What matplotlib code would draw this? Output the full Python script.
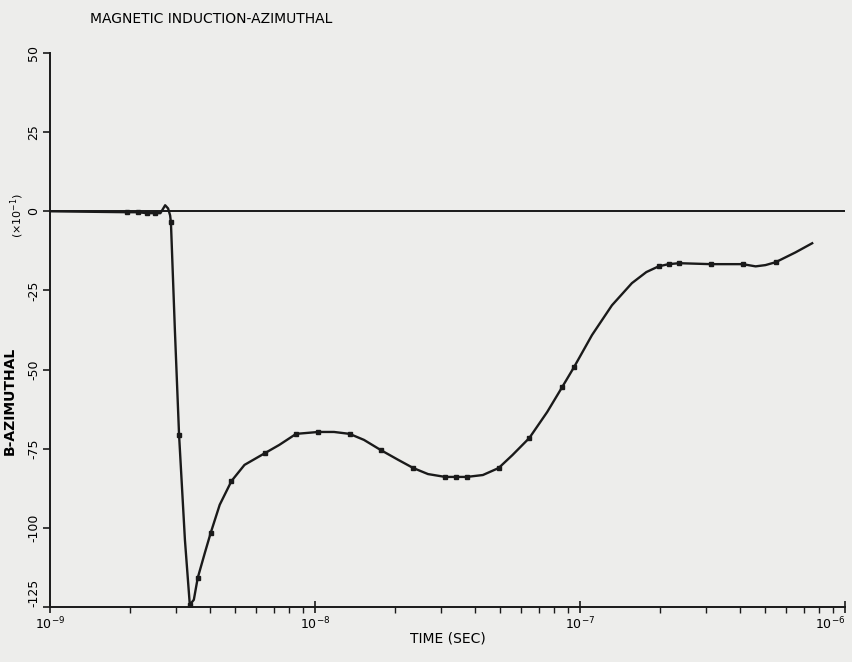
import numpy as np
import matplotlib.pyplot as plt
from matplotlib.ticker import LogLocator, NullFormatter, FixedLocator

# curve (time in s, B in units of 1e-1)
tempo = [1.00e-9, 1.96e-9, 2.14e-9, 2.33e-9, 2.49e-9, 2.61e-9, 2.65e-9, 2.72e-9,
         2.79e-9, 2.84e-9, 2.86e-9, 2.96e-9, 3.07e-9, 3.23e-9, 3.37e-9, 3.49e-9,
         3.61e-9, 3.84e-9, 4.04e-9, 4.37e-9, 4.84e-9, 5.42e-9, 6.50e-9, 7.33e-9,
         8.49e-9, 1.03e-8, 1.18e-8, 1.35e-8, 1.53e-8, 1.77e-8, 2.06e-8, 2.35e-8,
         2.67e-8, 3.10e-8, 3.40e-8, 3.74e-8, 4.30e-8, 4.93e-8, 5.56e-8, 6.44e-8,
         7.52e-8, 8.57e-8, 9.50e-8, 1.11e-7, 1.32e-7, 1.57e-7, 1.78e-7, 1.98e-7,
         2.16e-7, 2.37e-7, 3.12e-7, 4.11e-7, 4.60e-7, 5.01e-7, 5.47e-7, 6.50e-7,
         7.52e-7]
b_azim = [0.0, -0.3, -0.3, -0.6, -0.6, -0.6, 0.3, 1.9,
          0.9, -1.3, -3.5, -37.5, -70.7, -103.8, -124.3, -122.7,
          -115.8, -107.9, -101.6, -92.7, -85.2, -80.1, -76.3, -73.8,
          -70.3, -69.7, -69.7, -70.3, -72.2, -75.4, -78.5, -81.1,
          -83.0, -83.9, -83.9, -83.9, -83.3, -81.1, -77.0, -71.6,
          -63.4, -55.5, -49.2, -39.1, -29.7, -22.7, -19.2, -17.4,
          -16.7, -16.4, -16.7, -16.7, -17.4, -17.0, -16.1, -13.0,
          -10.1]

# sample points marked on the curve
t_marc = [1.96e-9, 2.14e-9, 2.33e-9, 2.49e-9, 2.86e-9, 3.07e-9, 3.37e-9, 3.61e-9,
          4.04e-9, 4.84e-9, 6.50e-9, 8.49e-9, 1.03e-8, 1.35e-8, 1.77e-8, 2.35e-8,
          3.10e-8, 3.40e-8, 3.74e-8, 4.93e-8, 6.44e-8, 8.57e-8, 9.50e-8, 1.98e-7,
          2.16e-7, 2.37e-7, 3.12e-7, 4.11e-7, 5.47e-7]
b_marc = [-0.3, -0.3, -0.6, -0.6, -3.5, -70.7, -124.3, -115.8,
          -101.6, -85.2, -76.3, -70.3, -69.7, -70.3, -75.4, -81.1,
          -83.9, -83.9, -83.9, -81.1, -71.6, -55.5, -49.2, -17.4,
          -16.7, -16.4, -16.7, -16.7, -16.1]

y_ticks = [50, 25, 0, -25, -50, -75, -100, -125]
x_ticks = [1e-9, 1e-8, 1e-7, 1e-6]
x_labels = [r'$10^{-9}$', r'$10^{-8}$', r'$10^{-7}$', r'$10^{-6}$']

papel = '#ededeb'
tinta = '#1a1a1a'

fig = plt.figure(figsize=(8.53, 6.62), dpi=100, facecolor=papel)
ax = fig.add_axes([0.0586, 0.083, 0.932, 0.837], facecolor=papel)

ax.axhline(0, color=tinta, lw=1.4, zorder=1)
ax.plot(tempo, b_azim, color=tinta, lw=1.7, zorder=2)
ax.plot(t_marc, b_marc, ls='none', marker='s', ms=3.5, color=tinta, zorder=3)

ax.set_xscale('log')
ax.set_xlim(1e-9, 1e-6)
ax.set_ylim(-125, 50)

ax.set_xticks(x_ticks)
ax.set_xticklabels(x_labels, fontsize=9)
ax.get_xticklabels()[-1].set_ha('right')
ax.xaxis.set_minor_locator(LogLocator(base=10, subs=np.arange(2, 10)))
ax.xaxis.set_minor_formatter(NullFormatter())
ax.tick_params(axis='x', which='major', direction='inout', length=8, width=1.2, color=tinta, pad=2)
ax.tick_params(axis='x', which='minor', direction='out', length=4, width=1.0, color=tinta)

ax.yaxis.set_major_locator(FixedLocator(y_ticks))
ax.set_yticklabels([str(v) for v in y_ticks], rotation=90, va='center', fontsize=9)
ax.tick_params(axis='y', direction='out', length=5, width=1.2, color=tinta, pad=2)
ax.get_yticklabels()[-1].set_va('bottom')

for lado in ['top', 'right']:
    ax.spines[lado].set_visible(False)
for lado in ['left', 'bottom']:
    ax.spines[lado].set_linewidth(1.4)
    ax.spines[lado].set_color(tinta)

ax.set_xlabel('TIME (SEC)', fontsize=10, labelpad=0)
fig.text(0.012, 0.395, 'B-AZIMUTHAL', rotation=90, ha='center', va='center',
         fontsize=10, fontweight='bold')
fig.text(0.020, 0.675, r'($\times10^{-1}$)', rotation=90, ha='center', va='center',
         fontsize=8)
fig.text(0.105, 0.972, 'MAGNETIC INDUCTION-AZIMUTHAL', ha='left', va='center',
         fontsize=10)

plt.savefig('out.png', dpi=100, facecolor=papel)
